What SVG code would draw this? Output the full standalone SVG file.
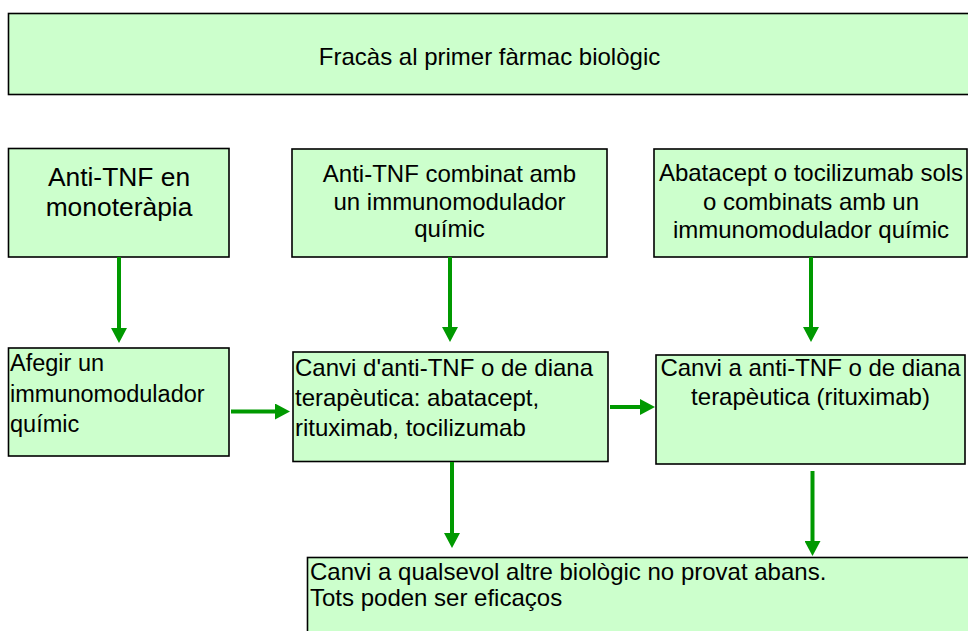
<svg xmlns="http://www.w3.org/2000/svg" width="968" height="631" viewBox="0 0 968 631">
<style>
.box{fill:#CCFFCC;stroke:#000;stroke-width:1.6}
.t{font-family:"Liberation Sans",Arial,sans-serif;font-size:24px;fill:#000}
.c{text-anchor:middle}
.conn line{stroke:#009900;stroke-width:4}
</style>
<defs>
<marker id="ah" viewBox="0 0 15 16" markerWidth="15" markerHeight="16" refX="1" refY="8" orient="auto" markerUnits="userSpaceOnUse">
<path d="M0,0 L15,8 L0,16 z" fill="#009900"/>
</marker>
</defs>
<rect width="968" height="631" fill="#fff"/>
<g id="n0">
<rect class="box" x="8.5" y="13.5" width="970" height="81"/>
<text class="t c" x="489.5" y="65">Fracàs al primer fàrmac biològic</text>
</g>
<g id="n1">
<rect class="box" x="8.5" y="148.5" width="220.5" height="108.5"/>
<text class="t c" x="119" y="186" style="font-size:26.4px">Anti-TNF en</text>
<text class="t c" x="119" y="216" style="font-size:26.4px">monoteràpia</text>
</g>
<g id="n2">
<rect class="box" x="292" y="149" width="315" height="108"/>
<text class="t c" x="449.5" y="181.5">Anti-TNF combinat amb</text>
<text class="t c" x="449.5" y="209.5">un immunomodulador</text>
<text class="t c" x="449.5" y="237">químic</text>
</g>
<g id="n3">
<rect class="box" x="654" y="149" width="313" height="108"/>
<text class="t c" x="811" y="181">Abatacept o tocilizumab sols</text>
<text class="t c" x="811" y="209.5">o combinats amb un</text>
<text class="t c" x="811" y="237.5">immunomodulador químic</text>
</g>
<g id="n4">
<rect class="box" x="8.5" y="348" width="220.5" height="108"/>
<text class="t" x="10" y="371" style="font-size:23.5px">Afegir un</text>
<text class="t" x="10" y="402" style="font-size:23.5px">immunomodulador</text>
<text class="t" x="10" y="432" style="font-size:23.5px">químic</text>
</g>
<g id="n5">
<rect class="box" x="293" y="352" width="315" height="109.5"/>
<text class="t" x="295" y="376">Canvi d'anti-TNF o de diana</text>
<text class="t" x="295" y="406">terapèutica: abatacept,</text>
<text class="t" x="295" y="436">rituximab, tocilizumab</text>
</g>
<g id="n6">
<rect class="box" x="656" y="355" width="309" height="109"/>
<text class="t c" x="810.5" y="376">Canvi a anti-TNF o de diana</text>
<text class="t c" x="810.5" y="404.5">terapèutica (rituximab)</text>
</g>
<g id="n7">
<rect class="box" x="307.5" y="557.5" width="680" height="100"/>
<text class="t" x="310" y="580">Canvi a qualsevol altre biològic no provat abans.</text>
<text class="t" x="310" y="606">Tots poden ser eficaços</text>
</g>
<g class="conn" id="connectors">
<line x1="119" y1="257" x2="119" y2="329" marker-end="url(#ah)"/>
<line x1="231" y1="411.5" x2="276" y2="411.5" marker-end="url(#ah)"/>
<line x1="450" y1="257" x2="450" y2="328" marker-end="url(#ah)"/>
<line x1="610" y1="407" x2="641" y2="407" marker-end="url(#ah)"/>
<line x1="811" y1="257" x2="811" y2="328" marker-end="url(#ah)"/>
<line x1="452" y1="462" x2="452" y2="534" marker-end="url(#ah)"/>
<line x1="812.5" y1="471" x2="812.5" y2="542" marker-end="url(#ah)"/>
</g>
</svg>
